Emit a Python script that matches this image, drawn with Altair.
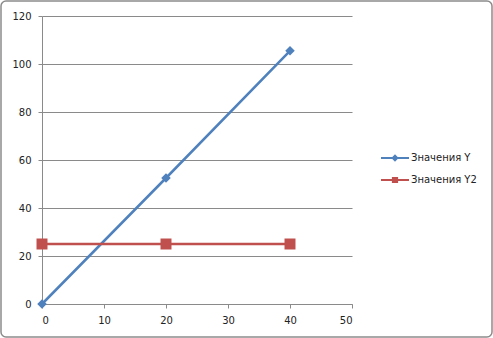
import altair as alt
import pandas as pd

x_vals = [0, 20, 40]
y_vals = [0, 52.5, 105.5]
y2_vals = [25, 25, 25]
series_names = ["Значения Y", "Значения Y2"]
colors = ["#4F81BD", "#C0504D"]
x_ticks = [0, 10, 20, 30, 40, 50]
y_ticks = [0, 20, 40, 60, 80, 100, 120]

df = pd.DataFrame({
    "x": x_vals + x_vals,
    "y": y_vals + y2_vals,
    "series": [series_names[0]] * len(x_vals) + [series_names[1]] * len(x_vals),
})

FONT = "DejaVu Sans"
GRAY = "#8a8a8a"

xenc = alt.X("x:Q", scale=alt.Scale(domain=[0, 50], nice=False),
             axis=alt.Axis(values=x_ticks, grid=False, title=None, tickSize=4,
                           labelPadding=7, domainColor=GRAY, tickColor=GRAY))
yenc = alt.Y("y:Q", scale=alt.Scale(domain=[0, 120], nice=False),
             axis=alt.Axis(values=y_ticks, grid=True, title=None, tickSize=4,
                           labelPadding=7, domainColor=GRAY, tickColor=GRAY,
                           gridColor=GRAY))

base = alt.Chart(df)

border = alt.Chart(pd.DataFrame({"a": [0]})).mark_rect(
    fillOpacity=0, stroke="#8c8c8c", strokeWidth=1.5, cornerRadius=5
).encode(x=alt.value(-41), x2=alt.value(450), y=alt.value(-15), y2=alt.value(321))

line1 = base.transform_filter(alt.datum.series == series_names[0]).mark_line(
    color=colors[0], strokeWidth=2.5).encode(x=xenc, y=yenc)
line2 = base.transform_filter(alt.datum.series == series_names[1]).mark_line(
    color=colors[1], strokeWidth=2.5).encode(x=xenc, y=yenc)
pts1 = base.transform_filter(alt.datum.series == series_names[0]).mark_point(
    shape="diamond", filled=True, size=90, color=colors[0], opacity=1).encode(x=xenc, y=yenc)
pts2 = base.transform_filter(alt.datum.series == series_names[1]).mark_point(
    shape="square", filled=True, size=121, color=colors[1], opacity=1).encode(x=xenc, y=yenc)

paths = [
    "M-1,0H1M0,-0.16L0.16,0L0,0.16L-0.16,0Z",
    "M-1,0H1M-0.15,-0.15H0.15V0.15H-0.15Z",
]
leg = alt.Legend(title=None, orient="none", legendX=338, legendY=127,
                 symbolSize=784, symbolStrokeWidth=2, labelFont=FONT,
                 labelFontSize=10, labelColor="#222", labelOffset=1,
                 rowPadding=0, symbolOpacity=1)
cscale = alt.Scale(domain=series_names, range=colors)
dummy = base.transform_filter("datum.x < 0").mark_point(filled=False, strokeWidth=2, opacity=1).encode(
    x=xenc, y=yenc,
    color=alt.Color("series:N", scale=cscale, legend=leg),
    fill=alt.Fill("series:N", scale=cscale, legend=leg),
    shape=alt.Shape("series:N", scale=alt.Scale(domain=series_names, range=paths), legend=leg),
)

chart = alt.layer(border, line1, line2, pts1, pts2, dummy).properties(
    width=310, height=288,
    autosize=alt.AutoSizeParams(type="none"),
    padding={"left": 42, "top": 16, "right": 141, "bottom": 34},
).configure_view(stroke=None).configure_axis(
    labelFont=FONT, labelFontSize=10, labelColor="#222"
)

chart.save("out.html", embed_options={"renderer": "svg", "actions": False})
